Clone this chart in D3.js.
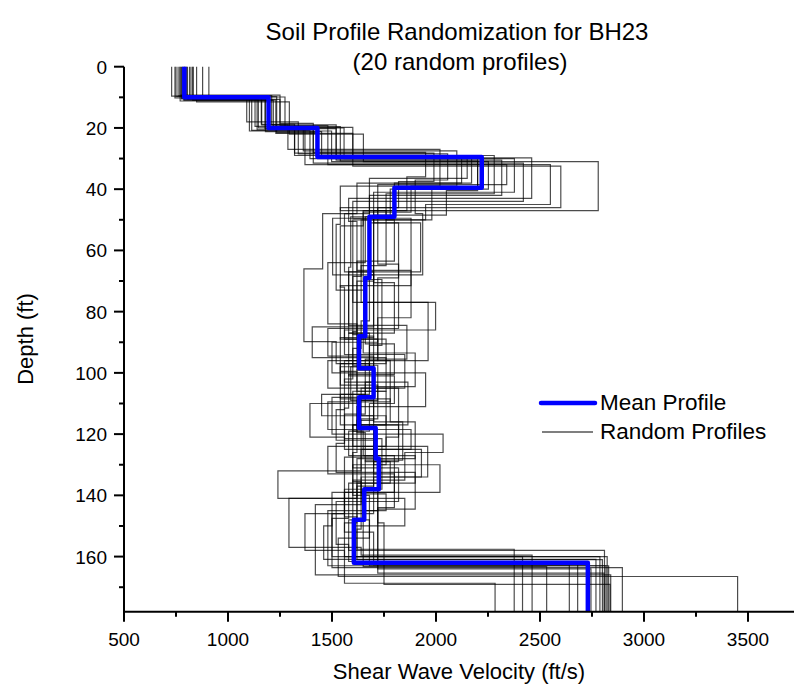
<!DOCTYPE html>
<meta charset="utf-8">
<style>
  body { margin: 0; background: #fff; }
  text { font-family: "Liberation Sans", Arial, sans-serif; fill: #000; }
  .axis path, .axis line { stroke: #000; }
</style>

<body>
  <script src="https://d3js.org/d3.v7.min.js"></script>
  <script>
    // mean profile: layer bottoms (ft) and velocities (ft/s)
    var meanDepths = [10, 20, 29.5, 39.5, 49, 69, 88, 98.5, 108, 118, 128, 138, 148, 162, 178];
    var meanVs = [790, 1195, 1430, 2220, 1800, 1680, 1660, 1630, 1700, 1630, 1710, 1725, 1655, 1605, 2730];

    // 20 random profiles: layer bottoms and velocities
    var randomDepths = [
      [9.6, 19.5, 29, 38, 48, 66, 89.8, 97, 107, 117, 129, 137, 149, 168.7, 178],
      [10.2, 21, 31, 40, 49.5, 68, 85, 95, 106, 119, 127, 139, 147, 157.6, 178],
      [9.3, 18.5, 28, 36, 47, 70, 88, 99, 110, 121, 125, 134, 146, 160, 178],
      [10.5, 20, 30, 41, 51, 67, 87, 98, 109, 116, 128, 141, 157, 159.5, 178],
      [11, 20.5, 32, 45, 50, 77, 86, 94, 105, 114, 124, 133, 145, 163.3, 178],
      [10, 19, 27, 39, 47, 65, 77, 96, 103, 117, 131, 138, 152, 162.7, 178],
      [9.8, 21.5, 29.5, 38, 49, 64, 84, 99, 108, 120, 126, 135, 148, 161.6, 178],
      [10.8, 20.2, 30.5, 42, 51, 69, 90, 100, 111, 118, 130, 139, 150, 160.9, 178],
      [11.5, 22, 31, 47, 52, 72, 89, 97, 104, 115, 132, 141, 150, 160, 178],
      [10.1, 18, 28.5, 37, 48, 68, 83, 92, 102, 112, 122, 133, 144, 165.4, 178],
      [10.4, 19.8, 29.8, 43, 50.5, 66.5, 82, 96, 105, 121, 130, 140, 154, 166.5, 178],
      [9.5, 20.8, 30, 40.5, 48.5, 70.5, 87, 101, 110, 119, 127, 136, 148, 163, 178],
      [10.7, 19.2, 32, 38.5, 49, 65.5, 84.5, 95.5, 107, 114, 127.5, 146, 158, 160, 178],
      [9.9, 20.3, 27.5, 39, 47.5, 69.5, 91, 98, 108.5, 116, 128.5, 138, 149, 169.1, 178],
      [10.3, 21.2, 29, 41.5, 50, 63.5, 86.5, 97.5, 109, 119.5, 129, 136, 147.5, 163.6, 178],
      [9.4, 19, 30, 36.5, 48, 67, 88.5, 99.5, 106, 117, 124, 134, 151, 161, 178],
      [10.6, 20.6, 31.5, 44, 49.5, 71.5, 89, 96, 109.5, 118.5, 125, 139.5, 145, 163, 178],
      [9.7, 18.8, 28.2, 37.5, 46, 64.5, 85.5, 94.5, 103, 113.5, 123, 132.5, 144.5, 164, 178],
      [10.9, 21.8, 32.5, 46, 51.5, 73, 90.5, 100.5, 111.5, 121.5, 131, 142, 156, 158, 178],
      [11.2, 19.6, 30.8, 40, 50, 68.5, 87.5, 93.5, 104.5, 115.5, 126, 135.5, 143, 166, 178]
    ];
    var randomVs = [
      [729, 1130, 1320, 2123, 1620, 1455, 1365, 1520, 1680, 1540, 1820, 1700, 1620, 1560, 2284],
      [745, 1103, 1498, 2252, 1780, 1503, 1700, 1405, 1760, 1600, 1650, 1800, 1560, 1620, 2376],
      [769, 1250, 1410, 1950, 1860, 1700, 1620, 1700, 1620, 1394, 1560, 1930, 1700, 1500, 2416],
      [777, 1146, 1558, 2377, 1700, 1926, 1580, 1680, 1590, 1700, 1900, 1620, 1293, 1640, 2462],
      [788, 1218, 1370, 2550, 1950, 1600, 1998, 1560, 1850, 1640, 1760, 1480, 1720, 1650, 2532],
      [801, 1162, 1288, 2019, 1540, 1760, 1640, 1962, 1560, 1865, 1600, 1740, 1560, 1700, 2641],
      [822, 1234, 1430, 2171, 1800, 1660, 1480, 1620, 1700, 1500, 2034, 1850, 1600, 1580, 2681],
      [833, 1178, 1520, 2316, 1680, 1820, 1720, 1500, 1950, 1620, 1700, 2019, 1500, 1460, 2769],
      [849, 1295, 1651, 2780, 1650, 1540, 1560, 1760, 1540, 1720, 1640, 1240, 1850, 1600, 2788],
      [878, 1090, 1338, 2056, 1900, 1936, 1680, 1640, 1600, 1560, 1520, 1700, 1800, 1720, 2808],
      [908, 1200, 1600, 2460, 1580, 1620, 1880, 1720, 1480, 1820, 1760, 1600, 1680, 1530, 3450],
      [760, 1114, 1394, 2200, 2050, 1700, 1800, 1580, 1800, 1680, 1580, 1900, 1620, 1680, 2817],
      [790, 1250, 1480, 2340, 1720, 1590, 1580, 1860, 1660, 1450, 1700, 1560, 1370, 1560, 2823],
      [815, 1274, 1362, 2100, 1880, 1650, 1740, 1680, 1540, 1780, 1840, 1660, 1720, 1750, 2837],
      [780, 1180, 1450, 2280, 1760, 1800, 1620, 1600, 1720, 1620, 1660, 1780, 1580, 1500, 2896],
      [795, 1210, 1520, 2150, 1680, 1560, 1700, 1540, 1620, 1760, 1600, 1960, 1640, 1620, 2800],
      [805, 1140, 1410, 2420, 1600, 1880, 1540, 1720, 1780, 1480, 1880, 1640, 1760, 1480, 2830],
      [750, 1160, 1320, 1990, 1820, 1720, 1820, 1480, 1700, 1660, 1560, 1520, 1900, 1720, 2745],
      [830, 1230, 1600, 2600, 1540, 1520, 1660, 1800, 1580, 1560, 1740, 1820, 1520, 1580, 2810],
      [770, 1190, 1540, 2200, 1980, 1640, 1600, 1650, 1900, 1700, 1620, 1600, 1640, 1420, 2840]
    ];

    var xTicks = [500, 1000, 1500, 2000, 2500, 3000, 3500];
    var yTicks = [0, 20, 40, 60, 80, 100, 120, 140, 160];
    var legendLabels = ["Mean Profile", "Random Profiles"];

    var W = 794, H = 690;
    var margin = { top: 66.7, right: 0, bottom: 78.3, left: 124 };

    var x = d3.scaleLinear().domain([500, 3750]).range([margin.left, margin.left + 3250 * 0.208]);
    var y = d3.scaleLinear().domain([0, 178]).range([margin.top, H - margin.bottom]);

    var svg = d3.select("body").append("svg")
      .attr("width", W)
      .attr("height", H);

    svg.append("defs").append("clipPath").attr("id", "plot")
      .append("rect")
      .attr("x", margin.left).attr("y", margin.top - 5)
      .attr("width", W - margin.left).attr("height", y(178) - margin.top + 5);

    // turn layer bottoms + velocities into step points
    function steps(depths, vs) {
      var pts = [], top = 0;
      depths.forEach(function (d, i) {
        pts.push([vs[i], top]);
        pts.push([vs[i], d]);
        top = d;
      });
      return pts;
    }

    var line = d3.line()
      .x(function (p) { return x(p[0]); })
      .y(function (p) { return y(p[1]); });

    var plot = svg.append("g").attr("clip-path", "url(#plot)");

    plot.selectAll(".rand")
      .data(randomDepths)
      .enter().append("path")
      .attr("class", "rand")
      .attr("d", function (d, i) { return line(steps(d, randomVs[i])); })
      .attr("fill", "none")
      .attr("stroke", "#000")
      .attr("stroke-opacity", 0.7)
      .attr("stroke-width", 1.2);

    plot.append("path")
      .attr("d", line(steps(meanDepths, meanVs)))
      .attr("fill", "none")
      .attr("stroke", "#0000ff")
      .attr("stroke-width", 4.5)
      .attr("stroke-linejoin", "round");

    // x axis
    var xAxis = svg.append("g")
      .attr("class", "axis")
      .attr("transform", "translate(0," + y(178) + ")");
    xAxis.append("line")
      .attr("x1", x(500) - 1).attr("x2", W)
      .attr("stroke-width", 2);
    xAxis.selectAll(".minor")
      .data(d3.range(750, 3750, 500))
      .enter().append("line")
      .attr("x1", x).attr("x2", x)
      .attr("y1", 0).attr("y2", 5)
      .attr("stroke-width", 2);
    xAxis.selectAll(".major")
      .data(xTicks)
      .enter().append("line")
      .attr("x1", x).attr("x2", x)
      .attr("y1", 0).attr("y2", 10)
      .attr("stroke-width", 2);
    xAxis.selectAll("text")
      .data(xTicks)
      .enter().append("text")
      .attr("x", x)
      .attr("y", 34.5)
      .attr("text-anchor", "middle")
      .style("font-size", "19px")
      .text(function (d) { return d; });

    // y axis
    var yAxis = svg.append("g")
      .attr("class", "axis")
      .attr("transform", "translate(" + x(500) + ",0)");
    yAxis.append("line")
      .attr("y1", y(0)).attr("y2", y(178) + 1)
      .attr("stroke-width", 2);
    yAxis.selectAll(".minor")
      .data(d3.range(10, 178, 20))
      .enter().append("line")
      .attr("y1", y).attr("y2", y)
      .attr("x1", 0).attr("x2", -5)
      .attr("stroke-width", 2);
    yAxis.selectAll(".major")
      .data(yTicks)
      .enter().append("line")
      .attr("y1", y).attr("y2", y)
      .attr("x1", 0).attr("x2", -10)
      .attr("stroke-width", 2);
    yAxis.selectAll("text")
      .data(yTicks)
      .enter().append("text")
      .attr("x", -17)
      .attr("y", function (d) { return y(d) + 7; })
      .attr("text-anchor", "end")
      .style("font-size", "19px")
      .text(function (d) { return d; });

    // axis titles
    svg.append("text")
      .attr("x", 459).attr("y", 679)
      .attr("text-anchor", "middle")
      .style("font-size", "22px")
      .text("Shear Wave Velocity (ft/s)");
    svg.append("text")
      .attr("transform", "translate(33,339) rotate(-90)")
      .attr("text-anchor", "middle")
      .style("font-size", "22px")
      .text("Depth (ft)");

    // title
    svg.append("text")
      .attr("x", 457).attr("y", 40)
      .attr("text-anchor", "middle")
      .style("font-size", "24px")
      .text("Soil Profile Randomization for BH23");
    svg.append("text")
      .attr("x", 460).attr("y", 70)
      .attr("text-anchor", "middle")
      .style("font-size", "24px")
      .text("(20 random profiles)");

    // legend
    var legend = svg.append("g");
    legend.append("line")
      .attr("x1", 541).attr("x2", 595).attr("y1", 403).attr("y2", 403)
      .attr("stroke", "#0000ff").attr("stroke-width", 4.5).attr("stroke-linecap", "round");
    legend.append("line")
      .attr("x1", 542).attr("x2", 593).attr("y1", 432).attr("y2", 432)
      .attr("stroke", "#000").attr("stroke-width", 1.2);
    legend.selectAll("text")
      .data(legendLabels)
      .enter().append("text")
      .attr("x", 600)
      .attr("y", function (d, i) { return 410 + i * 29; })
      .style("font-size", "22.5px")
      .text(function (d) { return d; });
  </script>
</body>
